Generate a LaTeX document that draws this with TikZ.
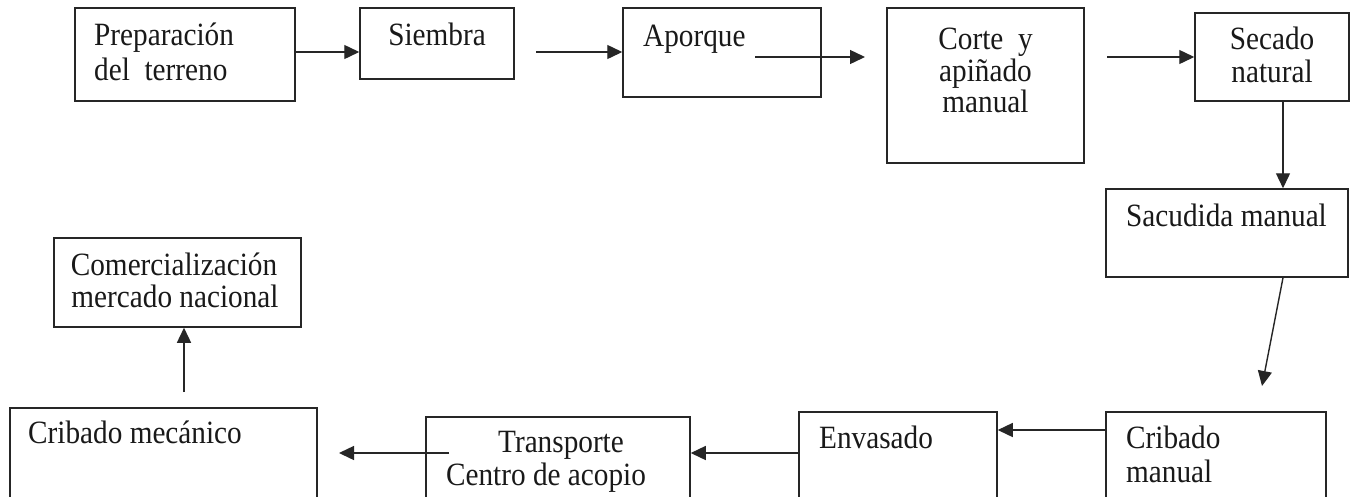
\documentclass[tikz,border=0pt]{standalone}
\usepackage{fontspec}
\setmainfont{Liberation Serif}[FakeStretch=0.9]
\usetikzlibrary{arrows.meta}
\begin{document}
\begin{tikzpicture}[x=1pt,y=-1pt,
  box/.style={draw=black!85, line width=1.5pt, inner sep=0pt, fill=none},
  txt/.style={inner sep=0pt, font=\fontsize{32.5}{36}\selectfont, text=black!90},
  arr/.style={draw=black!85, line width=1.4pt, -{Triangle[length=15pt,width=14pt]}}]
\useasboundingbox (0,0) rectangle (1351,496);
\clip (0,0) rectangle (1351,496);
\fill[white] (0,0) rectangle (1351,496);
% boxes
\node[box, minimum width=220pt, minimum height=93pt] (prep) at (185,54.5) {};
\node[box, minimum width=154pt, minimum height=71pt] (siembra) at (437,43.5) {};
\node[box, minimum width=198pt, minimum height=89pt] (aporque) at (722,52.5) {};
\node[box, minimum width=197pt, minimum height=155pt] (corte) at (985.5,85.5) {};
\node[box, minimum width=154pt, minimum height=88pt] (secado) at (1272,57) {};
\node[box, minimum width=242pt, minimum height=88pt] (sacudida) at (1227,233) {};
\node[box, minimum width=220pt, minimum height=98pt] (crman) at (1216,461) {};
\node[box, minimum width=198pt, minimum height=98pt] (envasado) at (898,461) {};
\node[box, minimum width=264pt, minimum height=93pt] (transp) at (558,463.5) {};
\node[box, minimum width=307pt, minimum height=102pt] (crmec) at (163.5,459) {};
\node[box, minimum width=247pt, minimum height=89pt] (comerc) at (177.5,282.5) {};
% texts
\node[txt, anchor=base west] (prepA) at (94,45) {Preparación};
\node[txt, anchor=base west] (prepB) at (94,80) {del~ terreno};
\node[txt, anchor=base] (siembraT) at (437,45) {Siembra};
\node[txt, anchor=base west] (aporqueT) at (643,46) {Aporque};
\node[txt, anchor=base] (corteA) at (985.5,49) {Corte~ y};
\node[txt, anchor=base] (corteB) at (985.5,81) {apiñado};
\node[txt, anchor=base] (corteC) at (985.5,112) {manual};
\node[txt, anchor=base] (secadoA) at (1272,49) {Secado};
\node[txt, anchor=base] (secadoB) at (1272,82) {natural};
\node[txt, anchor=base west] (sacudidaT) at (1126,226) {Sacudida manual};
\node[txt, anchor=base west] (crmanA) at (1126,448) {Cribado};
\node[txt, anchor=base west] (crmanB) at (1126,482) {manual};
\node[txt, anchor=base west] (envasadoT) at (819,448) {Envasado};
\node[txt, anchor=base] (transpA) at (561,452) {Transporte};
\node[txt, anchor=base] (transpB) at (546,485) {Centro de acopio};
\node[txt, anchor=base west] (crmecT) at (28,443) {Cribado mecánico};
\node[txt, anchor=base] (comercA) at (174,275) {Comercialización};
\node[txt, anchor=base] (comercB) at (175,307) {mercado nacional};
% free connector ends
\coordinate (s2a) at (536,52);
\coordinate (a2cS) at (755,57);
\coordinate (a2cE) at (865,57);
\coordinate (c2s) at (1107,57);
\coordinate (sac2cm) at (1262,386);
\coordinate (t2cS) at (449,453);
\coordinate (t2cE) at (339,453);
\coordinate (cm2c) at (184,392);
% connectors
\draw[arr] (prep.east |- 0,52) -- (siembra.west |- 0,52);
\draw[arr] (s2a) -- (aporque.west |- s2a);
\draw[arr] (a2cS) -- (a2cE);
\draw[arr] (c2s) -- (secado.west |- c2s);
\draw[arr] (secado.south -| 1283,0) -- (sacudida.north -| 1283,0);
\draw[arr] (sacudida.south -| 1283,0) -- (sac2cm);
\draw[arr] (crman.west |- 0,430) -- (envasado.east |- 0,430);
\draw[arr] (envasado.west |- 0,453) -- (transp.east |- 0,453);
\draw[arr] (t2cS) -- (t2cE);
\draw[arr] (cm2c) -- (comerc.south -| cm2c);
\end{tikzpicture}
\end{document}
